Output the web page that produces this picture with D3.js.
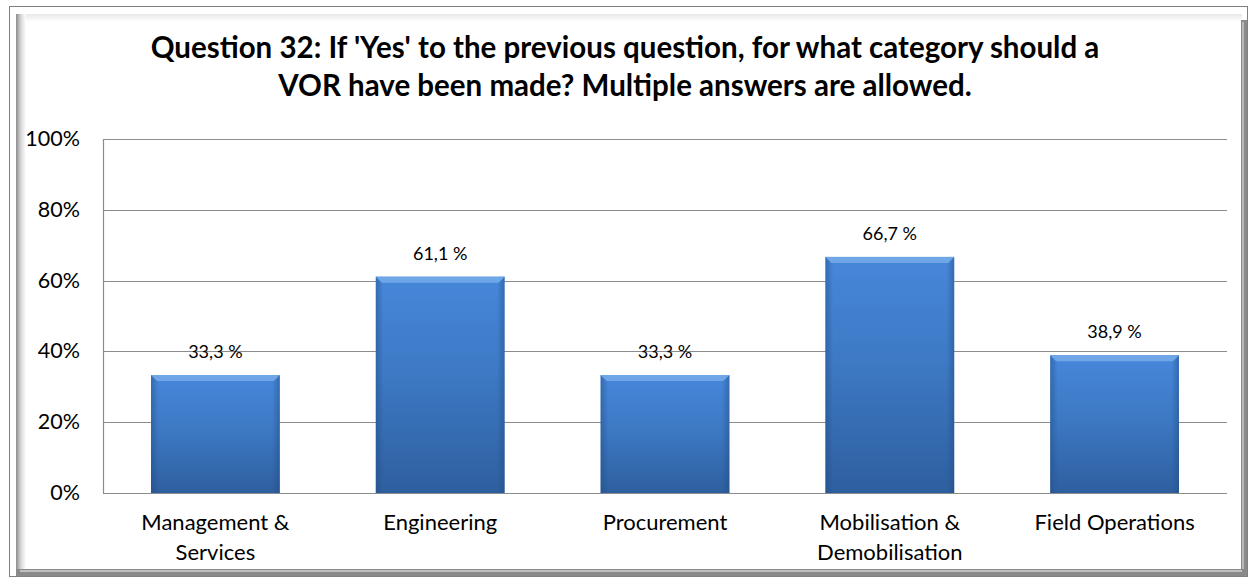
<!DOCTYPE html>
<html>
<head>
<meta charset="utf-8">
<script src="https://cdn.jsdelivr.net/npm/d3@7"></script>
<style>
  body { margin: 0; background: #fff; }
  svg text { font-family: Lato, "Open Sans", sans-serif; fill: #000; }
</style>
</head>
<body>
<svg id="chart" width="1251" height="580"></svg>
<script>
// chart data
const categories = ['Management & Services', 'Engineering', 'Procurement', 'Mobilisation & Demobilisation', 'Field Operations'];
const categoryLines = [['Management &', 'Services'], ['Engineering'], ['Procurement'], ['Mobilisation &', 'Demobilisation'], ['Field Operations']];
const values = [33.3, 61.1, 33.3, 66.7, 38.9];
const valueLabels = ['33,3 %', '61,1 %', '33,3 %', '66,7 %', '38,9 %'];
const yTicks = [0, 20, 40, 60, 80, 100];
const titleLines = ["Question 32: If 'Yes' to the previous question, for what category should a",
                    "VOR have been made? Multiple answers are allowed."];

const svg = d3.select('#chart');
const defs = svg.append('defs');

// plot area
const plot = { left: 103, right: 1227, top: 139, bottom: 493 };

// frame: thin outer border + bevel
svg.append('rect')
  .attr('x', 9.5).attr('y', 6.5)
  .attr('width', 1238).attr('height', 570)
  .attr('fill', '#fff').attr('stroke', '#808080');

const gl = defs.append('linearGradient').attr('id', 'bevelLeft').attr('x1', 0).attr('x2', 1);
gl.append('stop').attr('offset', 0).attr('stop-color', '#8c8c8c');
gl.append('stop').attr('offset', 0.5).attr('stop-color', '#d8d8d8');
gl.append('stop').attr('offset', 1).attr('stop-color', '#fff');
const gt = defs.append('linearGradient').attr('id', 'bevelTop').attr('y1', 0).attr('y2', 1).attr('x1', 0).attr('x2', 0);
gt.append('stop').attr('offset', 0).attr('stop-color', '#e8e8e8');
gt.append('stop').attr('offset', 1).attr('stop-color', '#fff');

svg.append('rect').attr('x', 16).attr('y', 14).attr('width', 10).attr('height', 556).attr('fill', 'url(#bevelLeft)');
svg.append('rect').attr('x', 26).attr('y', 14).attr('width', 1216).attr('height', 8).attr('fill', 'url(#bevelTop)');
// right and bottom dark edges
svg.append('rect').attr('x', 1241).attr('y', 20).attr('width', 6).attr('height', 556).attr('fill', '#8a8a8a');
svg.append('rect').attr('x', 1242).attr('y', 22).attr('width', 2).attr('height', 552).attr('fill', '#b8b8b8');
svg.append('rect').attr('x', 16).attr('y', 569).attr('width', 1231).attr('height', 7).attr('fill', '#8a8a8a');
svg.append('rect').attr('x', 20).attr('y', 570).attr('width', 1222).attr('height', 2).attr('fill', '#c0c0c0');

// scales
const x = d3.scaleBand().domain(categories).range([plot.left, plot.right]).paddingInner(0.427).paddingOuter(0.2135);
const y = d3.scaleLinear().domain([0, 100]).range([plot.bottom, plot.top]);

// gridlines
svg.append('g')
  .selectAll('line')
  .data(yTicks)
  .join('line')
  .attr('x1', plot.left).attr('x2', plot.right)
  .attr('y1', d => Math.round(y(d)) + 0.5).attr('y2', d => Math.round(y(d)) + 0.5)
  .attr('stroke', '#8c8c8c').attr('stroke-width', 1.2);
svg.append('line')
  .attr('x1', plot.left + 0.5).attr('x2', plot.left + 0.5)
  .attr('y1', plot.top).attr('y2', plot.bottom)
  .attr('stroke', '#8c8c8c').attr('stroke-width', 1.2);

// y tick labels
svg.append('g')
  .selectAll('text')
  .data(yTicks)
  .join('text')
  .attr('x', 80).attr('y', d => y(d) - 1)
  .attr('text-anchor', 'end')
  .attr('dominant-baseline', 'central')
  .attr('font-size', 21.5)
  .text(d => d + '%');

// bar gradients
const gv = defs.append('linearGradient').attr('id', 'barV').attr('x1', 0).attr('x2', 0).attr('y1', 0).attr('y2', 1);
gv.append('stop').attr('offset', 0).attr('stop-color', '#4787da');
gv.append('stop').attr('offset', 0.45).attr('stop-color', '#3d79c4');
gv.append('stop').attr('offset', 1).attr('stop-color', '#2e5f9f');
const gh = defs.append('linearGradient').attr('id', 'barH').attr('x1', 0).attr('x2', 1);
gh.append('stop').attr('offset', 0).attr('stop-color', '#1f4a80').attr('stop-opacity', 0.45);
gh.append('stop').attr('offset', 0.06).attr('stop-color', '#1f4a80').attr('stop-opacity', 0);
gh.append('stop').attr('offset', 0.94).attr('stop-color', '#1f4a80').attr('stop-opacity', 0);
gh.append('stop').attr('offset', 1).attr('stop-color', '#1f4a80').attr('stop-opacity', 0.45);

const bars = svg.append('g')
  .selectAll('g')
  .data(values)
  .join('g');

bars.append('rect')
  .attr('x', (d, i) => x(categories[i]))
  .attr('y', d => y(d))
  .attr('width', x.bandwidth())
  .attr('height', d => y(0) - y(d))
  .attr('fill', 'url(#barV)');
bars.append('rect')
  .attr('x', (d, i) => x(categories[i]))
  .attr('y', d => y(d))
  .attr('width', x.bandwidth())
  .attr('height', d => y(0) - y(d))
  .attr('fill', 'url(#barH)');
// top bevel
bars.append('path')
  .attr('d', (d, i) => {
    const x0 = x(categories[i]), x1 = x0 + x.bandwidth(), t = y(d);
    return `M${x0},${t} L${x1},${t} L${x1 - 6},${t + 6} L${x0 + 6},${t + 6} Z`;
  })
  .attr('fill', '#6ea6e8');

// value labels
svg.append('g')
  .selectAll('text')
  .data(values)
  .join('text')
  .attr('x', (d, i) => x(categories[i]) + x.bandwidth() / 2)
  .attr('y', d => y(d) - 17)
  .attr('text-anchor', 'middle')
  .attr('font-size', 18)
  .text((d, i) => valueLabels[i]);

// category labels
svg.append('g')
  .selectAll('text')
  .data(categoryLines)
  .join('text')
  .attr('x', (d, i) => x(categories[i]) + x.bandwidth() / 2)
  .attr('y', 530)
  .attr('text-anchor', 'middle')
  .attr('font-size', 22)
  .each(function(lines) {
    d3.select(this).selectAll('tspan')
      .data(lines)
      .join('tspan')
      .attr('x', d3.select(this).attr('x'))
      .attr('dy', (l, j) => j === 0 ? 0 : 30)
      .text(l => l);
  });

// title
svg.append('g')
  .selectAll('text')
  .data(titleLines)
  .join('text')
  .attr('x', 625)
  .attr('y', (d, i) => 58 + i * 38)
  .attr('text-anchor', 'middle')
  .attr('font-size', 29.5)
  .attr('font-weight', 'bold')
  .text(d => d);
</script>
</body>
</html>
